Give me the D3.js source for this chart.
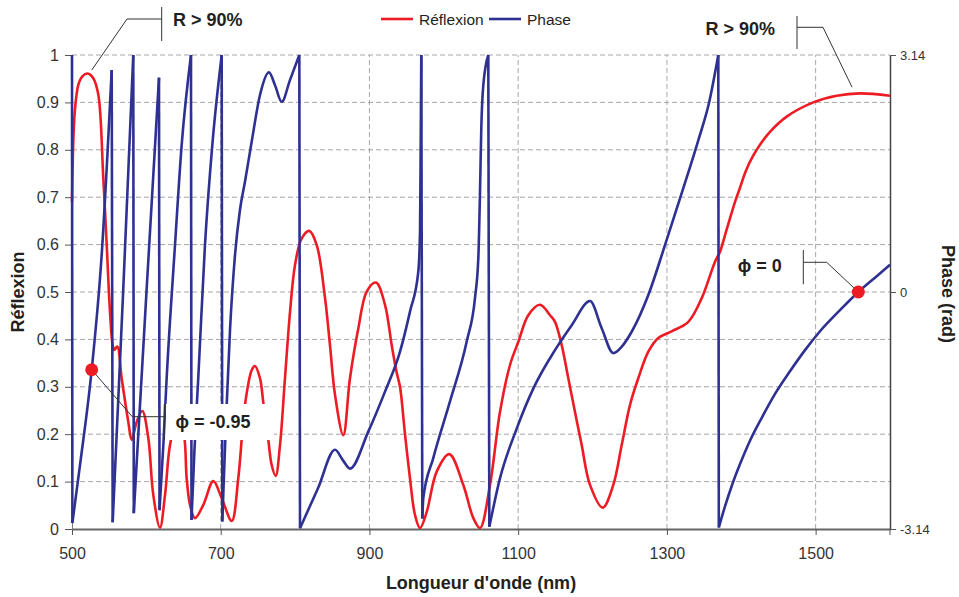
<!DOCTYPE html>
<html><head><meta charset="utf-8">
<script src="https://cdn.jsdelivr.net/npm/d3@7"></script>
<style>
body{margin:0;background:#fff;}
svg{display:block;font-family:Arial,"Liberation Sans",sans-serif;}
</style>
</head><body>
<svg id="c" width="959" height="597"></svg>
<script>
// ---------- DATA ----------
const wavelengthR = [500,502,504,508.5,514,521,528.6,535.4,542.1,546.7,551.1,554.7,556.9,560.9,566.8,575.7,580.3,587,594.5,602.6,609.3,618.3,625.1,631.8,641,649.7,654.2,658.7,665.4,676.6,690,701.3,714.8,723.6,732.6,741.6,746,752.8,757.3,764,768.5,773.9,779.7,786.4,793.2,799.9,808.9,819.1,829.1,840.2,846.9,853.7,864.8,873.8,885,896.3,908.8,920.9,929.9,936.6,941.1,947.8,954.5,961.2,968,977,990.4,1007.4,1026.2,1039.7,1048.7,1062.1,1075.5,1089,1100.2,1113.6,1129.3,1142.8,1149.5,1158.5,1167.4,1176.4,1185.4,1196.6,1213.6,1227.9,1239.2,1250.4,1261.5,1275,1288.4,1306.4,1328.8,1346.8,1364.7,1371.4,1380,1391.6,1398.3,1406,1416.2,1427,1438.6,1461.1,1496.9,1528.3,1559.6,1600];
const reflexion = [0.69,0.83,0.885,0.937,0.955,0.961,0.951,0.916,0.74,0.599,0.458,0.388,0.378,0.385,0.318,0.226,0.188,0.226,0.249,0.192,0.072,0.003,0.072,0.177,0.23,0.205,0.107,0.051,0.023,0.051,0.101,0.065,0.017,0.107,0.262,0.335,0.344,0.318,0.266,0.188,0.135,0.112,0.177,0.318,0.458,0.557,0.613,0.629,0.599,0.488,0.388,0.283,0.198,0.318,0.423,0.501,0.52,0.473,0.388,0.33,0.3,0.2,0.107,0.03,0.002,0.036,0.121,0.158,0.093,0.023,0.002,0.093,0.247,0.346,0.395,0.451,0.473,0.451,0.437,0.388,0.318,0.247,0.177,0.093,0.045,0.093,0.177,0.262,0.318,0.374,0.403,0.417,0.437,0.487,0.564,0.585,0.63,0.69,0.72,0.755,0.788,0.815,0.838,0.87,0.9,0.914,0.919,0.914];

const wavelengthPhase = [500,500.5,510.8,526.5,539.9,553.4,554.7,568.6,582.4,583.1,599.5,617.0,617.7,622.8,627.3,638.5,647.5,660.0,660.7,664.7,669.8,678.8,688.7,701.3,702.1,707.1,712.5,719.2,725.9,732.6,741.6,752.8,764.9,773.0,782.0,793.2,805.7,806.6,830.8,853.7,864.4,873.8,898.4,920.9,941.1,954.5,965.7,968.0,968.9,969.7,971.1,972.4,985.8,1008.3,1030.7,1041.9,1046.4,1048.6,1050.4,1053.1,1059.8,1061.2,1075.5,1098.0,1120.3,1149.5,1172.0,1196.6,1212.3,1227.9,1239.6,1253.0,1275.0,1297.4,1319.9,1342.2,1356.5,1369.1,1369.8,1378.1,1387.5,1398.3,1411.7,1427.9,1445.4,1465.5,1485.7,1505.9,1532.8,1557.4,1579.8,1600];
const phase = [3.14,-3.06,-2.29,-1.03,0.49,2.94,-3.05,-0.04,3.14,-2.93,-0.11,2.84,-2.89,-2.03,-1.14,0.62,1.95,3.14,-3.02,-2.09,-1.14,0.62,1.95,3.14,-3.04,-1.70,-0.50,0.49,1.09,1.46,1.99,2.61,2.91,2.74,2.52,2.81,3.14,-3.13,-2.60,-2.09,-2.23,-2.34,-1.85,-1.32,-0.79,-0.26,0.27,0.80,1.95,3.14,-3.00,-2.73,-2.20,-1.45,-0.66,-0.08,0.45,1.29,2.17,2.74,3.14,-3.11,-2.47,-1.81,-1.28,-0.77,-0.44,-0.12,-0.48,-0.81,-0.72,-0.52,-0.04,0.62,1.31,2.01,2.50,3.14,-3.12,-2.84,-2.56,-2.28,-1.97,-1.66,-1.35,-1.05,-0.77,-0.52,-0.24,0.00,0.19,0.36];

const xTickValues = [500,700,900,1100,1300,1500];
const rTickValues = [0,0.1,0.2,0.3,0.4,0.5,0.6,0.7,0.8,0.9,1];
const phaseTickValues = [-3.14,0,3.14];
const phaseTickLabels = ["-3.14","0","3.14"];
const seriesNames = ["Réflexion","Phase"];
const markerWl = [526.5,1557.4];
const markerPhase = [-1.03,0];
const markerText = ["\u03D5 = -0.95","\u03D5 = 0"];
const highR = [{wl:526.5,r:0.968},{wl:1549,r:0.932}];
const highText = "R > 90%";

// ---------- STYLE ----------
const RED = "#ed1c24", BLUE = "#2e3192";
const svg = d3.select("#c");
const x = d3.scaleLinear([500,1600],[72,890]);
const yR = d3.scaleLinear([0,1],[529,55]);
const yP = d3.scaleLinear([-3.14,3.14],[529,55]);

// grid
const grid = svg.append("g").attr("stroke","#a6a6a6").attr("stroke-width",1).attr("stroke-dasharray","5,3");
grid.selectAll("line.h").data(rTickValues.filter(d=>d>0)).join("line")
  .attr("x1",x(500)).attr("x2",x(1600)).attr("y1",d=>yR(d)).attr("y2",d=>yR(d));
grid.selectAll("line.v").data(xTickValues.filter(d=>d>500)).join("line")
  .attr("y1",yR(0)).attr("y2",yR(1)).attr("x1",d=>x(d)).attr("x2",d=>x(d));

// axes
const fmtR = d=>String(+d.toFixed(1));
const gx = svg.append("g").attr("transform",`translate(0,${yR(0)})`)
  .call(d3.axisBottom(x).tickValues(xTickValues).tickSizeInner(6).tickSizeOuter(0).tickPadding(13).tickFormat(d3.format("d")));
const gl = svg.append("g").attr("transform",`translate(${x(500)},0)`)
  .call(d3.axisLeft(yR).tickValues(rTickValues).tickSizeInner(7).tickSizeOuter(0).tickPadding(6).tickFormat(fmtR));
const gr = svg.append("g").attr("transform",`translate(${x(1600)},0)`)
  .call(d3.axisRight(yP).tickValues(phaseTickValues).tickSizeInner(6).tickSizeOuter(0).tickPadding(4).tickFormat((d,i)=>phaseTickLabels[i]));
[gx,gl].forEach(g=>{g.selectAll("text").attr("font-size",16).attr("fill","#333").attr("font-family","Arial, Liberation Sans, sans-serif");});
gr.selectAll("text").attr("font-size",13).attr("fill","#333").attr("font-family","Arial, Liberation Sans, sans-serif");
gx.select(".domain").attr("stroke","#666").attr("stroke-width",2);
gl.select(".domain").attr("stroke","#777").attr("stroke-width",1);
gr.select(".domain").attr("stroke","#444").attr("stroke-width",1.5);
[gx,gl,gr].forEach(g=>g.selectAll(".tick line").attr("stroke","#555"));
svg.append("line").attr("x1",x(1600)).attr("x2",x(1600)).attr("y1",yR(0)).attr("y2",yR(0)+6).attr("stroke","#555");

// reflexion curve
const rData = wavelengthR.map((w,i)=>[w,reflexion[i]]);
svg.append("path").datum(rData)
  .attr("d",d3.line().x(d=>x(d[0])).y(d=>Math.min(yR(d[1]),yR(0))).curve(d3.curveCatmullRom.alpha(0.5)))
  .attr("fill","none").attr("stroke",RED).attr("stroke-width",2.6);

// phase curve: split at wraps
const pData = wavelengthPhase.map((w,i)=>[w,phase[i]]);
const segs = [[pData[0]]];
const jumps = [];
for(let i=1;i<pData.length;i++){
  if(pData[i][1] < pData[i-1][1]-3){ jumps.push([pData[i-1],pData[i]]); segs.push([pData[i]]); }
  else segs[segs.length-1].push(pData[i]);
}
const pLine = d3.line().x(d=>x(d[0])).y(d=>yP(d[1])).curve(d3.curveMonotoneX);
const gp = svg.append("g").attr("fill","none").attr("stroke",BLUE).attr("stroke-width",2.6);
gp.selectAll("path.s").data(segs.filter(s=>s.length>1)).join("path").attr("d",pLine).attr("stroke-linejoin","round");
gp.selectAll("line.j").data(jumps).join("line")
  .attr("x1",d=>x(d[0][0])).attr("y1",d=>yP(d[0][1])).attr("x2",d=>x(d[1][0])).attr("y2",d=>yP(d[1][1]));

// label background (hides lines behind the phi = -0.95 label)
svg.append("rect").attr("x",166).attr("y",404).attr("width",108).attr("height",36).attr("fill","#fff");

// annotations
const ann = svg.append("g").attr("stroke","#333").attr("stroke-width",1).attr("fill","none");
const txt = svg.append("g").attr("font-weight","bold").attr("font-size",18).attr("fill","#231f20");

ann.append("polyline").attr("points",`${x(highR[0].wl)},${yR(highR[0].r)} 127,19 161.7,19`);
ann.append("line").attr("x1",161.7).attr("x2",161.7).attr("y1",7).attr("y2",41);
txt.append("text").attr("x",173).attr("y",26).text(highText);

ann.append("polyline").attr("points",`${x(highR[1].wl)},${yR(highR[1].r)} 823,27.3 797,27.3`);
ann.append("line").attr("x1",797).attr("x2",797).attr("y1",16).attr("y2",49);
txt.append("text").attr("x",775).attr("y",35).attr("text-anchor","end").text(highText);

ann.append("polyline").attr("points",`${x(markerWl[0])},${yP(markerPhase[0])} 132.3,416.7 164.3,416.7`);
ann.append("line").attr("x1",164.3).attr("x2",164.3).attr("y1",404).attr("y2",440);
txt.append("text").attr("x",175.5).attr("y",428).text(markerText[0]);

ann.append("polyline").attr("points",`${x(markerWl[1])},${yP(markerPhase[1])} 826.7,262.3 803.3,262.3`);
ann.append("line").attr("x1",803.3).attr("x2",803.3).attr("y1",250).attr("y2",284.3);
txt.append("text").attr("x",781.7).attr("y",272).attr("text-anchor","end").text(markerText[1]);

// markers
svg.selectAll("circle.m").data(markerWl).join("circle")
  .attr("cx",d=>x(d)).attr("cy",(d,i)=>yP(markerPhase[i])).attr("r",6.5).attr("fill",RED);

// legend
const lg = svg.append("g");
const legX = [381,489], legTX=[419,527];
[RED,BLUE].forEach((c,i)=>{
  lg.append("line").attr("x1",legX[i]).attr("x2",legX[i]+32).attr("y1",19).attr("y2",19).attr("stroke",c).attr("stroke-width",2.6);
  lg.append("text").attr("x",legTX[i]).attr("y",24.5).attr("font-size",15.5).attr("fill","#231f20").text(seriesNames[i]);
});

// axis titles
svg.append("text").attr("x",481).attr("y",589).attr("text-anchor","middle").attr("font-weight","bold").attr("font-size",18).attr("fill","#231f20").text("Longueur d'onde (nm)");
svg.append("text").attr("transform","translate(24,292) rotate(-90)").attr("text-anchor","middle").attr("font-weight","bold").attr("font-size",18).attr("fill","#231f20").text("Réflexion");
svg.append("text").attr("transform","translate(942,294) rotate(90)").attr("text-anchor","middle").attr("font-weight","bold").attr("font-size",18).attr("fill","#231f20").text("Phase (rad)");
</script>
</body></html>
